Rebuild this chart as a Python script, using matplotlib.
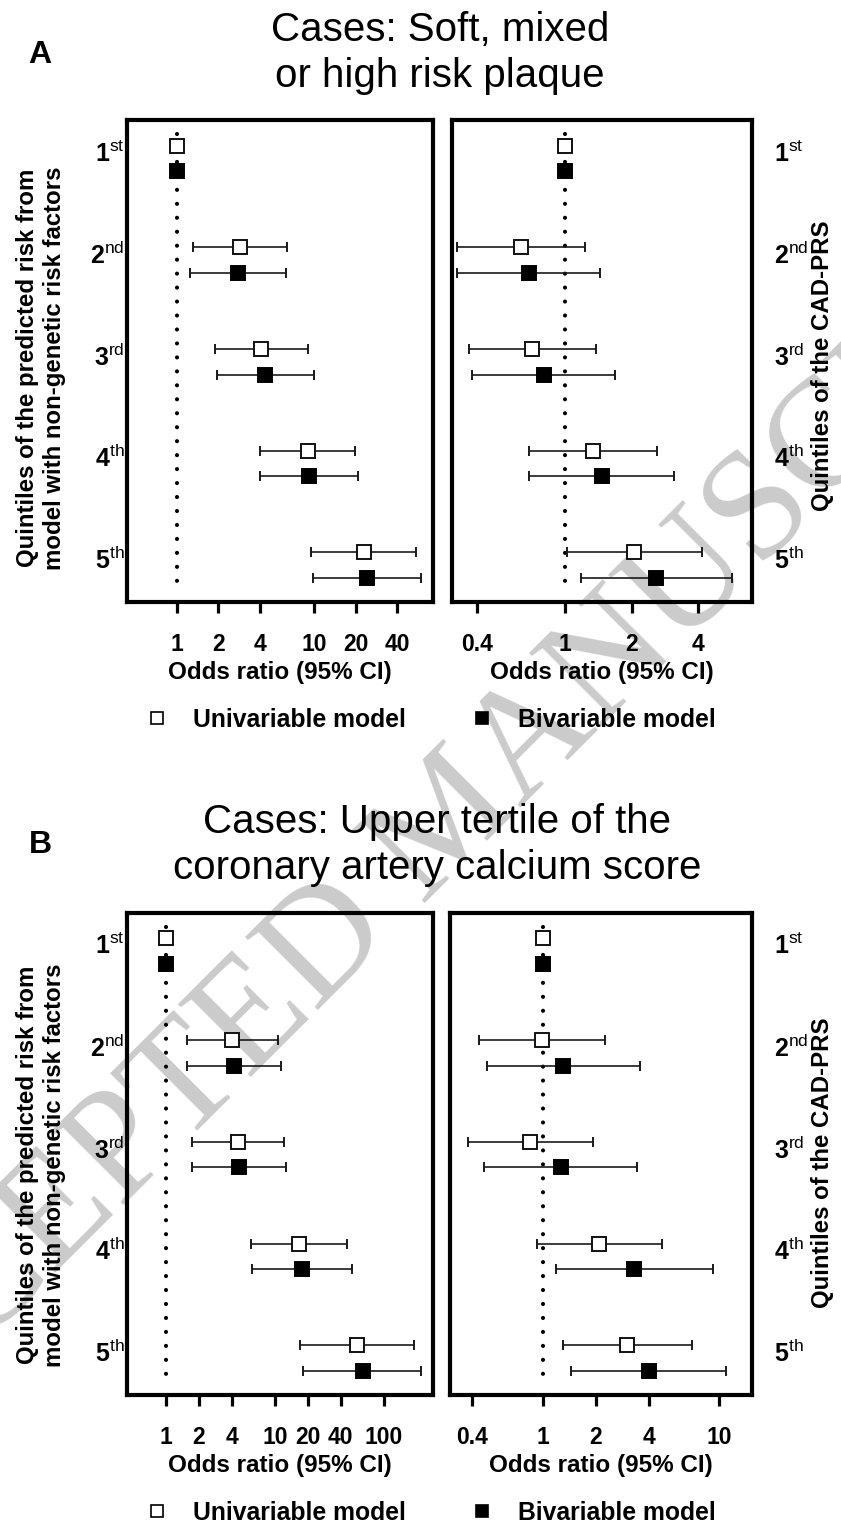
import matplotlib
matplotlib.use("Agg")
from matplotlib import pyplot as plt
from matplotlib.lines import Line2D
from matplotlib.ticker import NullLocator
import numpy as np

plt.rcParams['font.family'] = ['Liberation Sans', 'DejaVu Sans']
plt.rcParams['mathtext.fontset'] = 'custom'
plt.rcParams['mathtext.rm'] = 'Liberation Sans'
plt.rcParams['mathtext.bf'] = 'Liberation Sans:bold'

quintiles = ["1", "2", "3", "4", "5"]
suffixes = ["st", "nd", "rd", "th", "th"]

# A: soft, mixed or high risk plaque - clinical risk model quintiles
a_clin_uni = [1.0, 2.89, 4.12, 8.97, 22.9]
a_clin_uni_lo = [1.0, 1.31, 1.89, 4.03, 9.43]
a_clin_uni_hi = [1.0, 6.37, 9.06, 19.9, 55.0]
a_clin_bi = [1.0, 2.79, 4.41, 9.17, 24.2]
a_clin_bi_lo = [1.0, 1.24, 1.96, 4.03, 9.8]
a_clin_bi_hi = [1.0, 6.24, 9.92, 20.8, 59.8]
# A: CAD-PRS quintiles
a_prs_uni = [1.0, 0.633, 0.711, 1.34, 2.06]
a_prs_uni_lo = [1.0, 0.324, 0.367, 0.688, 1.02]
a_prs_uni_hi = [1.0, 1.236, 1.376, 2.60, 4.14]
a_prs_bi = [1.0, 0.688, 0.801, 1.47, 2.59]
a_prs_bi_lo = [1.0, 0.326, 0.38, 0.690, 1.18]
a_prs_bi_hi = [1.0, 1.44, 1.69, 3.12, 5.66]

# B: upper tertile of CAC score - clinical risk model quintiles
b_clin_uni = [1.0, 4.06, 4.55, 16.5, 56.2]
b_clin_uni_lo = [1.0, 1.56, 1.72, 5.98, 16.9]
b_clin_uni_hi = [1.0, 10.6, 12.0, 45.8, 188.0]
b_clin_bi = [1.0, 4.21, 4.67, 17.6, 63.8]
b_clin_bi_lo = [1.0, 1.56, 1.72, 6.11, 18.1]
b_clin_bi_hi = [1.0, 11.4, 12.7, 50.5, 220.0]
# B: CAD-PRS quintiles
b_prs_uni = [1.0, 0.99, 0.851, 2.09, 3.01]
b_prs_uni_lo = [1.0, 0.436, 0.376, 0.925, 1.30]
b_prs_uni_hi = [1.0, 2.24, 1.93, 4.74, 7.0]
b_prs_bi = [1.0, 1.31, 1.27, 3.30, 4.0]
b_prs_bi_lo = [1.0, 0.484, 0.465, 1.19, 1.45]
b_prs_bi_hi = [1.0, 3.54, 3.43, 9.18, 10.9]

a_clin_ticks = [1, 2, 4, 10, 20, 40]
a_prs_ticks = [0.4, 1, 2, 4]
b_clin_ticks = [1, 2, 4, 10, 20, 40, 100]
b_prs_ticks = [0.4, 1, 2, 4, 10]

W, H = 841, 1540
fig = plt.figure(figsize=(W / 100, H / 100), dpi=100)


def box(x0, x1, y0, y1):
    return [x0 / W, 1 - y1 / H, (x1 - x0) / W, (y1 - y0) / H]


def forest(ax, uni, uni_lo, uni_hi, bi, bi_lo, bi_hi, ticks, xlim, side):
    y = np.arange(5)
    ax.set_facecolor('none')
    ax.set_xscale('log')
    ax.vlines(1, -0.24, 4.25, color='black', lw=3.0, linestyles=[(0, (0.001, 3.35))],
              capstyle='round', zorder=1)
    uni, uni_lo, uni_hi = map(np.array, (uni, uni_lo, uni_hi))
    bi, bi_lo, bi_hi = map(np.array, (bi, bi_lo, bi_hi))
    ax.errorbar(uni, y - 0.125, xerr=[uni - uni_lo, uni_hi - uni], fmt='s', mfc='white',
                mec='#111111', ms=9.8, mew=1.4, ecolor='#1a1a1a', elinewidth=1.2,
                capsize=3.8, capthick=1.2, zorder=3)
    ax.errorbar(bi, y + 0.125, xerr=[bi - bi_lo, bi_hi - bi], fmt='s', mfc='black',
                mec='black', ms=9.8, mew=1.4, ecolor='#1a1a1a', elinewidth=1.2,
                capsize=3.8, capthick=1.2, zorder=3)
    ax.set_xlim(*xlim)
    ax.set_ylim(4.362, -0.378)
    ax.set_xticks(ticks)
    ax.set_xticklabels([('%g' % t) for t in ticks])
    ax.xaxis.set_minor_locator(NullLocator())
    # quintile labels sit a little above the centre of each pair
    ax.set_yticks(y - 0.07)
    ax.set_yticklabels([r'$\mathbf{%s}^{\mathrm{%s}}$' % (q, s) for q, s in zip(quintiles, suffixes)],
                       fontsize=18)
    for sp in ax.spines.values():
        sp.set_linewidth(3.0)
    ax.tick_params(axis='x', direction='out', length=8, width=2.3, pad=14, labelsize=16.5)
    for lab in ax.get_xticklabels():
        lab.set_fontweight('bold')
    if side == 'left':
        ax.tick_params(axis='y', length=0, pad=2)
    else:
        ax.yaxis.tick_right()
        ax.tick_params(axis='y', length=0, pad=16)
    ax.set_xlabel('Odds ratio (95% CI)', fontsize=17.5, fontweight='bold')
    ax.xaxis.set_label_coords(0.5, -0.122)
    ax.xaxis.label.set_va('top')


# watermark behind everything
fig.text(452 / W, 1 - 822 / H, 'ACCEPTED MANUSCRIPT', rotation=45, fontsize=112,
         family='Liberation Serif', color='#cbcbcb', ha='center', va='center', zorder=-10)

ax1 = fig.add_axes(box(127, 433, 120, 602))
forest(ax1, a_clin_uni, a_clin_uni_lo, a_clin_uni_hi, a_clin_bi, a_clin_bi_lo, a_clin_bi_hi,
       a_clin_ticks, (0.435, 73), 'left')
ax2 = fig.add_axes(box(451.7, 752, 120, 602))
forest(ax2, a_prs_uni, a_prs_uni_lo, a_prs_uni_hi, a_prs_bi, a_prs_bi_lo, a_prs_bi_hi,
       a_prs_ticks, (0.308, 7.0), 'right')
ax3 = fig.add_axes(box(127, 433, 912.7, 1395))
forest(ax3, b_clin_uni, b_clin_uni_lo, b_clin_uni_hi, b_clin_bi, b_clin_bi_lo, b_clin_bi_hi,
       b_clin_ticks, (0.439, 282), 'left')
ax4 = fig.add_axes(box(450, 752, 912.7, 1395))
forest(ax4, b_prs_uni, b_prs_uni_lo, b_prs_uni_hi, b_prs_bi, b_prs_bi_lo, b_prs_bi_hi,
       b_prs_ticks, (0.299, 15.3), 'right')

left_label = 'Quintiles of the predicted risk from\nmodel with non-genetic risk factors'
for yc in (368, 1165):
    fig.text(41 / W, 1 - yc / H, left_label, rotation=90, ha='center', va='center',
             fontsize=17.3, fontweight='bold', linespacing=1.2)
    fig.text(823 / W, 1 - (yc - 2) / H, 'Quintiles of the CAD-PRS', rotation=90,
             ha='center', va='center', fontsize=17.3, fontweight='bold')

fig.text(440 / W, 1 - 53 / H, 'Cases: Soft, mixed\nor high risk plaque', ha='center',
         va='center', fontsize=29, linespacing=1.28)
fig.text(437 / W, 1 - 845 / H, 'Cases: Upper tertile of the\ncoronary artery calcium score',
         ha='center', va='center', fontsize=29, linespacing=1.28)
fig.text(40 / W, 1 - 55 / H, 'A', ha='center', va='center', fontsize=23, fontweight='bold')
fig.text(40 / W, 1 - 845 / H, 'B', ha='center', va='center', fontsize=23, fontweight='bold')

h_uni = Line2D([], [], marker='s', ls='none', mfc='white', mec='black', ms=8.5, mew=1.2)
h_bi = Line2D([], [], marker='s', ls='none', mfc='black', mec='black', ms=8.5, mew=1.2)
for yc in (720, 1513):
    fig.legend([h_uni, h_bi], ['Univariable model', 'Bivariable model'], loc='center',
               bbox_to_anchor=(430 / W, 1 - yc / H), ncol=2, frameon=False,
               prop={'size': 17.8, 'weight': 'bold'}, handlelength=1.0, handletextpad=0.95,
               columnspacing=2.6)

fig.savefig('out.png', dpi=100)
